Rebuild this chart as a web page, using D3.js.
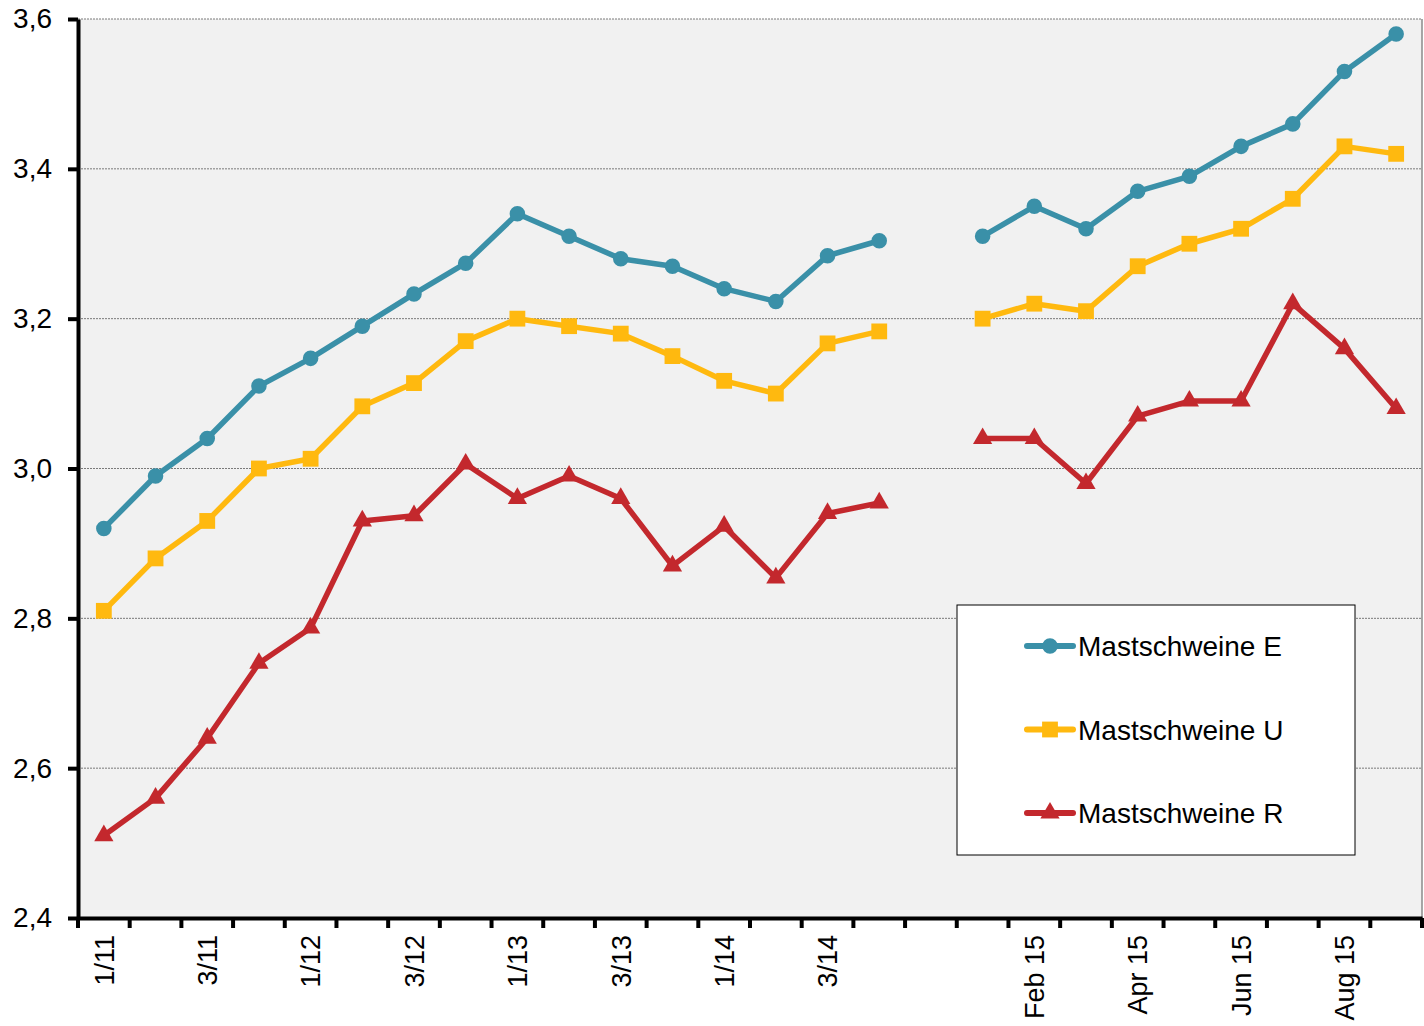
<!DOCTYPE html>
<html>
    <head>
        <script src="https://cdnjs.cloudflare.com/ajax/libs/d3/7.8.5/d3.min.js"></script>
        <title>Mastschweine</title>
        <style>
            html, body {
                margin: 0;
                background-color: white;
            }
            .svg_canvas {
                display: block;
                font-family: "Liberation Sans", Arial, sans-serif;
            }
        </style>
    </head>
    <body>
        <svg height="1026" width="1424" class="svg_canvas"></svg>

        <script>
            var categories = ["1/11","2/11","3/11","4/11","1/12","2/12","3/12","4/12",
                              "1/13","2/13","3/13","4/13","1/14","2/14","3/14","4/14","",
                              "Jan 15","Feb 15","Mar 15","Apr 15","Mai 15","Jun 15","Jul 15","Aug 15","Sep 15"];

            var serieE = [2.92,2.99,3.04,3.11,3.147,3.19,3.233,3.274,3.34,3.31,3.28,3.27,3.24,3.223,3.284,3.304,null,
                          3.31,3.35,3.32,3.37,3.39,3.43,3.46,3.53,3.58];
            var serieU = [2.81,2.88,2.93,3.00,3.013,3.083,3.114,3.17,3.20,3.19,3.18,3.15,3.117,3.10,3.167,3.183,null,
                          3.20,3.22,3.21,3.27,3.30,3.32,3.36,3.43,3.42];
            var serieR = [2.51,2.56,2.64,2.74,2.787,2.93,2.937,3.006,2.96,2.99,2.96,2.87,2.923,2.854,2.94,2.954,null,
                          3.04,3.04,2.98,3.07,3.09,3.09,3.22,3.16,3.08];

            var yTicks = [2.4,2.6,2.8,3.0,3.2,3.4,3.6];

            var series = [
                {name: "Mastschweine E", values: serieE, color: "#3a90a8", symbol: d3.symbolCircle, size: 190},
                {name: "Mastschweine U", values: serieU, color: "#ffb90f", symbol: d3.symbolSquare, size: 250},
                {name: "Mastschweine R", values: serieR, color: "#c3282d", symbol: d3.symbolTriangle, size: 160}
            ];

            var plotLeft = 78, plotRight = 1422, plotTop = 19, plotBottom = 918;

            var x = d3.scaleBand()
                .domain(categories)
                .range([plotLeft, plotRight])
                .padding(0);

            var y = d3.scaleLinear()
                .domain([2.4, 3.6])
                .range([plotBottom, plotTop]);

            var de = d3.formatLocale({decimal: ",", thousands: ".", grouping: [3], currency: ["", "€"]});
            var fmt = de.format(".1f");

            var svg = d3.select(".svg_canvas");

            // plot area
            svg.append("rect")
                .attr("x", plotLeft)
                .attr("y", plotTop)
                .attr("width", plotRight - plotLeft)
                .attr("height", plotBottom - plotTop)
                .style("fill", "#f1f1f1");

            svg.append("g")
                .selectAll("line")
                .data(yTicks.filter(function(d){ return d > 2.4; }))
                .enter()
                .append("line")
                .attr("x1", plotLeft)
                .attr("x2", plotRight)
                .attr("y1", function(d){ return y(d); })
                .attr("y2", function(d){ return y(d); })
                .style("stroke", "#7a7a7a")
                .style("stroke-width", 1)
                .style("stroke-dasharray", "2,1");

            svg.append("line")
                .attr("x1", plotRight)
                .attr("x2", plotRight)
                .attr("y1", plotTop)
                .attr("y2", plotBottom)
                .style("stroke", "#8a8a8a")
                .style("stroke-width", 1.5);

            // y axis
            var yAxis = svg.append("g")
                .attr("transform", "translate(" + plotLeft + ",0)")
                .call(d3.axisLeft(y).tickValues(yTicks).tickFormat(fmt).tickSize(10).tickSizeOuter(0).tickPadding(16));

            yAxis.select(".domain").style("stroke", "#000").style("stroke-width", 4);
            yAxis.selectAll(".tick line").style("stroke-width", 4);
            yAxis.selectAll("text")
                .style("font-size", "28px")
                .style("font-family", "Liberation Sans, Arial, sans-serif")
                .style("fill", "#000");

            // x axis
            var xAxis = svg.append("g")
                .attr("transform", "translate(0," + plotBottom + ")")
                .call(d3.axisBottom(x).tickSize(0).tickSizeOuter(0).tickFormat(function(d, i){
                    return i % 2 === 0 ? d : "";
                }));

            xAxis.select(".domain").style("stroke", "#000").style("stroke-width", 4);
            xAxis.selectAll("text")
                .attr("transform", "rotate(-90)")
                .attr("x", -17)
                .attr("y", 0)
                .attr("dy", "0.36em")
                .style("text-anchor", "end")
                .style("font-size", "27px")
                .style("font-family", "Liberation Sans, Arial, sans-serif")
                .style("fill", "#000");

            var boundaries = categories.map(function(c){ return x(c); }).concat([plotRight]);
            xAxis.append("g")
                .selectAll("line")
                .data(boundaries)
                .enter()
                .append("line")
                .attr("x1", function(d){ return d; })
                .attr("x2", function(d){ return d; })
                .attr("y1", 0)
                .attr("y2", 10)
                .style("stroke", "#000")
                .style("stroke-width", 4);

            // series
            var cx = function(d, i){ return x(categories[i]) + x.bandwidth() / 2; };

            var line = d3.line()
                .defined(function(d){ return d !== null; })
                .x(cx)
                .y(function(d){ return y(d); });

            series.forEach(function(s){
                svg.append("path")
                    .datum(s.values)
                    .attr("d", line)
                    .style("fill", "none")
                    .style("stroke", s.color)
                    .style("stroke-width", 5.5)
                    .style("stroke-linejoin", "round");

                svg.append("g")
                    .selectAll("path")
                    .data(s.values.map(function(v, i){ return {v: v, i: i}; }).filter(function(d){ return d.v !== null; }))
                    .enter()
                    .append("path")
                    .attr("d", d3.symbol().type(s.symbol).size(s.size))
                    .attr("transform", function(d){
                        return "translate(" + cx(d.v, d.i) + "," + y(d.v) + ")";
                    })
                    .style("fill", s.color);
            });

            // legend
            var legend = svg.append("g")
                .attr("transform", "translate(957,605)");

            legend.append("rect")
                .attr("width", 398)
                .attr("height", 250)
                .style("fill", "#fff")
                .style("stroke", "#000")
                .style("stroke-width", 1);

            var item = legend.selectAll(".item")
                .data(series)
                .enter()
                .append("g")
                .attr("class", "item")
                .attr("transform", function(d, i){ return "translate(0," + (41 + i * 83.5) + ")"; });

            item.append("line")
                .attr("x1", 70)
                .attr("x2", 116)
                .style("stroke", function(d){ return d.color; })
                .style("stroke-width", 6)
                .style("stroke-linecap", "round");

            item.append("path")
                .attr("d", function(d){ return d3.symbol().type(d.symbol).size(d.size)(); })
                .attr("transform", "translate(93,0)")
                .style("fill", function(d){ return d.color; });

            item.append("text")
                .attr("x", 121)
                .attr("dy", "0.36em")
                .style("font-size", "28px")
                .style("fill", "#000")
                .text(function(d){ return d.name; });
        </script>
    </body>
</html>
